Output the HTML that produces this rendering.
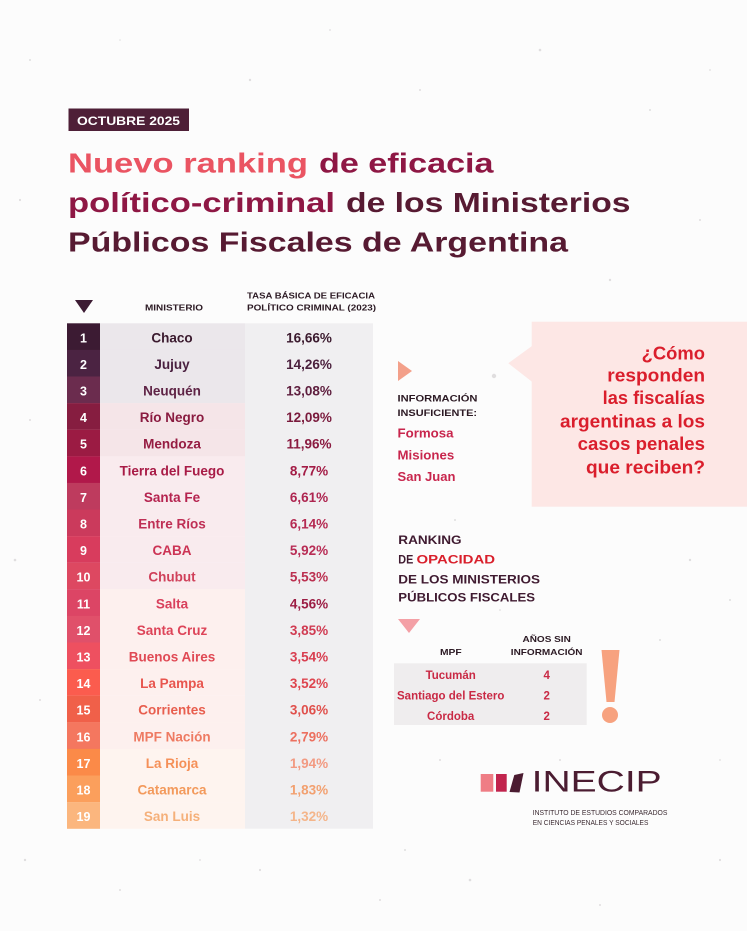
<!DOCTYPE html>
<html><head><meta charset="utf-8">
<style>
html,body{margin:0;padding:0;background:#fcfcfc;}
svg{display:block;}
text{font-family:"Liberation Sans",Arial,sans-serif;font-weight:bold;}
</style></head>
<body>
<svg width="747" height="931" viewBox="0 0 747 931" xmlns="http://www.w3.org/2000/svg">
<rect x="0" y="0" width="747" height="931" fill="#fcfcfc"/>
<!-- speckles -->
<g fill="#d4d2d3" opacity="0.7">
<circle cx="30" cy="60" r="1"/><circle cx="120" cy="40" r="0.8"/><circle cx="250" cy="80" r="1.2"/><circle cx="330" cy="30" r="0.9"/>
<circle cx="420" cy="90" r="1"/><circle cx="540" cy="50" r="1.3"/><circle cx="650" cy="110" r="1"/><circle cx="710" cy="70" r="0.9"/>
<circle cx="20" cy="200" r="1.1"/><circle cx="700" cy="220" r="1"/><circle cx="610" cy="280" r="1.2"/><circle cx="30" cy="420" r="1"/>
<circle cx="15" cy="560" r="1.3"/><circle cx="40" cy="700" r="1"/><circle cx="25" cy="860" r="1.2"/><circle cx="120" cy="890" r="1"/>
<circle cx="260" cy="870" r="1.1"/><circle cx="380" cy="900" r="1"/><circle cx="470" cy="880" r="1.3"/><circle cx="600" cy="905" r="1"/>
<circle cx="720" cy="860" r="1.1"/><circle cx="730" cy="600" r="1"/><circle cx="690" cy="560" r="1.2"/><circle cx="720" cy="760" r="0.9"/>
<circle cx="440" cy="760" r="1"/><circle cx="660" cy="640" r="1"/><circle cx="500" cy="610" r="0.9"/><circle cx="455" cy="520" r="1"/>
<circle cx="494" cy="376" r="2.2"/><circle cx="405" cy="850" r="1"/><circle cx="560" cy="760" r="1"/><circle cx="200" cy="860" r="0.9"/>
</g>

<!-- header box -->
<rect x="68.5" y="108.5" width="120.5" height="22.5" fill="#4e1f37"/>
<text x="77" y="125" font-size="11.5" fill="#ffffff" textLength="103" lengthAdjust="spacingAndGlyphs">OCTUBRE 2025</text>

<!-- title -->
<text x="68" y="172.5" font-size="28" fill="#ea5462" textLength="240" lengthAdjust="spacingAndGlyphs">Nuevo ranking</text>
<text x="319" y="172.5" font-size="28" fill="#8e1744" textLength="174.5" lengthAdjust="spacingAndGlyphs">de eficacia</text>
<text x="68" y="212" font-size="28" fill="#8e1744" textLength="267" lengthAdjust="spacingAndGlyphs">político-criminal</text>
<text x="346" y="212" font-size="28" fill="#571a32" textLength="284.5" lengthAdjust="spacingAndGlyphs">de los Ministerios</text>
<text x="68" y="251.5" font-size="28" fill="#571a32" textLength="500" lengthAdjust="spacingAndGlyphs">Públicos Fiscales de Argentina</text>

<!-- table header -->
<polygon points="75,300 93,300 84,313" fill="#3c1b33"/>
<text x="145" y="310.5" font-size="8.5" fill="#2c1a24" textLength="58" lengthAdjust="spacingAndGlyphs">MINISTERIO</text>
<text x="247" y="298.5" font-size="8.5" fill="#2c1a24" textLength="128" lengthAdjust="spacingAndGlyphs">TASA BÁSICA DE EFICACIA</text>
<text x="247" y="310.5" font-size="8.5" fill="#2c1a24" textLength="129" lengthAdjust="spacingAndGlyphs">POLÍTICO CRIMINAL (2023)</text>

<!-- value column background -->
<rect x="245" y="323.3" width="128" height="505.4" fill="#f0eff1"/>

<!-- rows -->
<g font-size="13.5" text-anchor="middle">
<rect x="67" y="323.3" width="33" height="26.7" fill="#3c1b33"/>
<rect x="100" y="323.3" width="145" height="26.7" fill="#ebe7eb"/>
<text x="83.5" y="342.3" font-size="12.5" fill="#fff">1</text>
<text x="172" y="342.3" fill="#3b1a2e">Chaco</text>
<text x="309" y="342.3" fill="#3b1a2e">16,66%</text>

<rect x="67" y="349.9" width="33" height="26.7" fill="#4b2342"/>
<rect x="100" y="349.9" width="145" height="26.7" fill="#ebe7eb"/>
<text x="83.5" y="368.9" font-size="12.5" fill="#fff">2</text>
<text x="172" y="368.9" fill="#4a2040">Jujuy</text>
<text x="309" y="368.9" fill="#4a1f3c">14,26%</text>

<rect x="67" y="376.5" width="33" height="26.7" fill="#6b2c4e"/>
<rect x="100" y="376.5" width="145" height="26.7" fill="#ebe7eb"/>
<text x="83.5" y="395.5" font-size="12.5" fill="#fff">3</text>
<text x="172" y="395.5" fill="#5e2345">Neuquén</text>
<text x="309" y="395.5" fill="#5e1e3e">13,08%</text>

<rect x="67" y="403.1" width="33" height="26.7" fill="#861d40"/>
<rect x="100" y="403.1" width="145" height="26.7" fill="#f5e5e8"/>
<text x="83.5" y="422.1" font-size="12.5" fill="#fff">4</text>
<text x="172" y="422.1" fill="#8a1b40">Río Negro</text>
<text x="309" y="422.1" fill="#7a1a3c">12,09%</text>

<rect x="67" y="429.7" width="33" height="26.7" fill="#9b1b43"/>
<rect x="100" y="429.7" width="145" height="26.7" fill="#f5e5e8"/>
<text x="83.5" y="448.7" font-size="12.5" fill="#fff">5</text>
<text x="172" y="448.7" fill="#961c42">Mendoza</text>
<text x="309" y="448.7" fill="#8a1a40">11,96%</text>

<rect x="67" y="456.3" width="33" height="26.7" fill="#b1184a"/>
<rect x="100" y="456.3" width="145" height="26.7" fill="#f9ebee"/>
<text x="83.5" y="475.3" font-size="12.5" fill="#fff">6</text>
<text x="172" y="475.3" fill="#a81b46">Tierra del Fuego</text>
<text x="309" y="475.3" fill="#a31c46">8,77%</text>

<rect x="67" y="482.9" width="33" height="26.7" fill="#be3b5e"/>
<rect x="100" y="482.9" width="145" height="26.7" fill="#f9ebee"/>
<text x="83.5" y="501.9" font-size="12.5" fill="#fff">7</text>
<text x="172" y="501.9" fill="#b5234f">Santa Fe</text>
<text x="309" y="501.9" fill="#ae2550">6,61%</text>

<rect x="67" y="509.5" width="33" height="26.7" fill="#cb3a5c"/>
<rect x="100" y="509.5" width="145" height="26.7" fill="#f9ebee"/>
<text x="83.5" y="528.5" font-size="12.5" fill="#fff">8</text>
<text x="172" y="528.5" fill="#bf2f55">Entre Ríos</text>
<text x="309" y="528.5" fill="#b52a52">6,14%</text>

<rect x="67" y="536.1" width="33" height="26.7" fill="#d83c5d"/>
<rect x="100" y="536.1" width="145" height="26.7" fill="#f9ebee"/>
<text x="83.5" y="555.1" font-size="12.5" fill="#fff">9</text>
<text x="172" y="555.1" fill="#cc3354">CABA</text>
<text x="309" y="555.1" fill="#b82c55">5,92%</text>

<rect x="67" y="562.7" width="33" height="26.7" fill="#dd4861"/>
<rect x="100" y="562.7" width="145" height="26.7" fill="#f9ebee"/>
<text x="83.5" y="581.7" font-size="12.5" fill="#fff">10</text>
<text x="172" y="581.7" fill="#d0405a">Chubut</text>
<text x="309" y="581.7" fill="#bb3050">5,53%</text>

<rect x="67" y="589.3" width="33" height="26.7" fill="#dc4565"/>
<rect x="100" y="589.3" width="145" height="26.7" fill="#fdf0ee"/>
<text x="83.5" y="608.3" font-size="12.5" fill="#fff">11</text>
<text x="172" y="608.3" fill="#d9405c">Salta</text>
<text x="309" y="608.3" fill="#9c1d44">4,56%</text>

<rect x="67" y="615.9" width="33" height="26.7" fill="#e0506a"/>
<rect x="100" y="615.9" width="145" height="26.7" fill="#fdf0ee"/>
<text x="83.5" y="634.9" font-size="12.5" fill="#fff">12</text>
<text x="172" y="634.9" fill="#dd4458">Santa Cruz</text>
<text x="309" y="634.9" fill="#d03b52">3,85%</text>

<rect x="67" y="642.5" width="33" height="26.7" fill="#ee5060"/>
<rect x="100" y="642.5" width="145" height="26.7" fill="#fdf0ee"/>
<text x="83.5" y="661.5" font-size="12.5" fill="#fff">13</text>
<text x="172" y="661.5" fill="#e04a55">Buenos Aires</text>
<text x="309" y="661.5" fill="#d83e50">3,54%</text>

<rect x="67" y="669.1" width="33" height="26.7" fill="#fb5c4e"/>
<rect x="100" y="669.1" width="145" height="26.7" fill="#fdf0ee"/>
<text x="83.5" y="688.1" font-size="12.5" fill="#fff">14</text>
<text x="172" y="688.1" fill="#e8554e">La Pampa</text>
<text x="309" y="688.1" fill="#de454f">3,52%</text>

<rect x="67" y="695.7" width="33" height="26.7" fill="#f06049"/>
<rect x="100" y="695.7" width="145" height="26.7" fill="#fdf0ee"/>
<text x="83.5" y="714.7" font-size="12.5" fill="#fff">15</text>
<text x="172" y="714.7" fill="#e85e4e">Corrientes</text>
<text x="309" y="714.7" fill="#e0504c">3,06%</text>

<rect x="67" y="722.3" width="33" height="26.7" fill="#f4775f"/>
<rect x="100" y="722.3" width="145" height="26.7" fill="#fdf0ee"/>
<text x="83.5" y="741.3" font-size="12.5" fill="#fff">16</text>
<text x="172" y="741.3" fill="#ee7a62">MPF Nación</text>
<text x="309" y="741.3" fill="#ec7060">2,79%</text>

<rect x="67" y="748.9" width="33" height="26.7" fill="#fb8a48"/>
<rect x="100" y="748.9" width="145" height="26.7" fill="#fef4ef"/>
<text x="83.5" y="767.9" font-size="12.5" fill="#fff">17</text>
<text x="172" y="767.9" fill="#f59058">La Rioja</text>
<text x="309" y="767.9" fill="#f29a82">1,94%</text>

<rect x="67" y="775.5" width="33" height="26.7" fill="#fb9f5c"/>
<rect x="100" y="775.5" width="145" height="26.7" fill="#fef4ef"/>
<text x="83.5" y="794.5" font-size="12.5" fill="#fff">18</text>
<text x="172" y="794.5" fill="#f39a5c">Catamarca</text>
<text x="309" y="794.5" fill="#f2a070">1,83%</text>

<rect x="67" y="802.1" width="33" height="26.7" fill="#fbb67e"/>
<rect x="100" y="802.1" width="145" height="26.7" fill="#fef4ef"/>
<text x="83.5" y="821.1" font-size="12.5" fill="#fff">19</text>
<text x="172" y="821.1" fill="#f5b07a">San Luis</text>
<text x="309" y="821.1" fill="#f4b58a">1,32%</text>
</g>

<!-- speech bubble -->
<rect x="531.7" y="321.7" width="215.3" height="185" fill="#fde7e5"/>
<polygon points="532,346 508.3,363.3 532,381.7" fill="#fde7e5"/>
<g font-size="18" fill="#da1e2c">
<text x="641.7" y="359.3" textLength="63.3" lengthAdjust="spacingAndGlyphs">¿Cómo</text>
<text x="607.3" y="381.5" textLength="97.7" lengthAdjust="spacingAndGlyphs">responden</text>
<text x="602.7" y="404" textLength="102.3" lengthAdjust="spacingAndGlyphs">las fiscalías</text>
<text x="560" y="427.3" textLength="145" lengthAdjust="spacingAndGlyphs">argentinas a los</text>
<text x="577.7" y="450" textLength="127.3" lengthAdjust="spacingAndGlyphs">casos penales</text>
<text x="586" y="473.3" textLength="119" lengthAdjust="spacingAndGlyphs">que reciben?</text>
</g>

<!-- info insuficiente -->
<polygon points="398,361 412,371 398,381" fill="#f3a08a"/>
<text x="397.5" y="401.5" font-size="9.5" fill="#2c1a24" textLength="80" lengthAdjust="spacingAndGlyphs">INFORMACIÓN</text>
<text x="397.5" y="416" font-size="9.5" fill="#2c1a24" textLength="79.5" lengthAdjust="spacingAndGlyphs">INSUFICIENTE:</text>
<g font-size="12.5" fill="#c8264d">
<text x="397.5" y="437.5" textLength="56" lengthAdjust="spacingAndGlyphs">Formosa</text>
<text x="397.5" y="459.3" textLength="56.7" lengthAdjust="spacingAndGlyphs">Misiones</text>
<text x="397.5" y="481" textLength="58" lengthAdjust="spacingAndGlyphs">San Juan</text>
</g>

<!-- ranking opacidad -->
<g font-size="11.5" fill="#3f1a30">
<text x="398.3" y="544" textLength="63.3" lengthAdjust="spacingAndGlyphs">RANKING</text>
<text x="398.3" y="563.3" textLength="15" lengthAdjust="spacingAndGlyphs">DE</text>
<text x="416.5" y="563.3" fill="#d91f2b" textLength="78.5" lengthAdjust="spacingAndGlyphs">OPACIDAD</text>
<text x="398.3" y="583.3" textLength="141.7" lengthAdjust="spacingAndGlyphs">DE LOS MINISTERIOS</text>
<text x="398.3" y="601.7" textLength="136.7" lengthAdjust="spacingAndGlyphs">PÚBLICOS FISCALES</text>
</g>
<polygon points="398,619 420,619 409,633" fill="#f4a0a6"/>
<g font-size="8.5" fill="#2c1a24">
<text x="440" y="655" textLength="21.7" lengthAdjust="spacingAndGlyphs">MPF</text>
<text x="522.5" y="642" textLength="48.3" lengthAdjust="spacingAndGlyphs">AÑOS SIN</text>
<text x="510.8" y="655" textLength="71.7" lengthAdjust="spacingAndGlyphs">INFORMACIÓN</text>
</g>
<rect x="394" y="663.3" width="192.7" height="61.7" fill="#efedee"/>
<g font-size="11.5" fill="#c92a45" text-anchor="middle">
<text x="450.7" y="679">Tucumán</text>
<text x="450.7" y="699.5">Santiago del Estero</text>
<text x="450.7" y="720">Córdoba</text>
<text x="546.7" y="679">4</text>
<text x="546.7" y="699.5">2</text>
<text x="546.7" y="720">2</text>
</g>
<!-- exclamation -->
<polygon points="601.5,650 619.5,650 614.5,702 606.5,702" fill="#f7a27f"/>
<circle cx="610" cy="715" r="8" fill="#f7a27f"/>

<!-- logo -->
<rect x="480.7" y="774" width="12.6" height="17.7" fill="#ef7d85"/>
<rect x="496" y="774" width="10.7" height="17.7" fill="#c1244d"/>
<polygon points="514.3,775 523.5,773 519.5,792.5 509.5,792" fill="#4b1c31"/>
<text x="531.7" y="791.7" font-size="30" style="font-weight:normal" fill="#4b1c31" textLength="130" lengthAdjust="spacingAndGlyphs">INECIP</text>
<text x="532.7" y="815" font-size="7.2" style="font-weight:normal" fill="#3b2a31" textLength="134.7" lengthAdjust="spacingAndGlyphs">INSTITUTO DE ESTUDIOS COMPARADOS</text>
<text x="532.7" y="825" font-size="7.2" style="font-weight:normal" fill="#3b2a31" textLength="115.7" lengthAdjust="spacingAndGlyphs">EN CIENCIAS PENALES Y SOCIALES</text>
</svg>
</body></html>
